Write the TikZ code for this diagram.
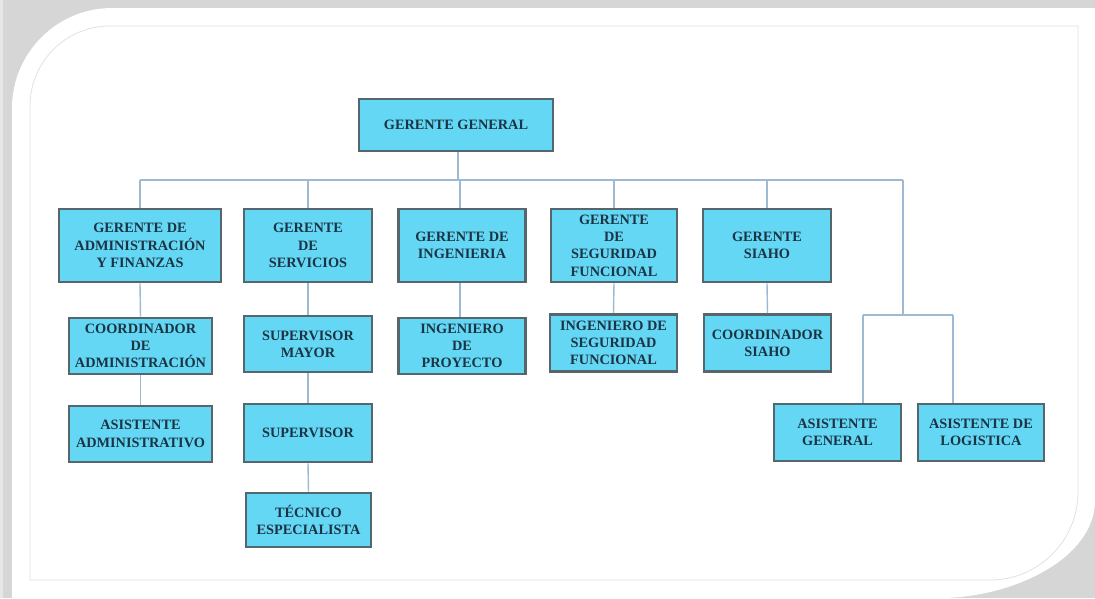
\documentclass[tikz,border=0pt]{standalone}
\usepackage{fontspec}
\setmainfont{Liberation Serif}
\definecolor{bggray}{HTML}{D6D6D6}
\definecolor{framegray}{HTML}{E2E2E2}
\definecolor{boxcyan}{HTML}{64D7F5}
\definecolor{boxedge}{HTML}{55666D}
\definecolor{txtblue}{HTML}{1B3444}
\definecolor{linkblue}{HTML}{9DBAD2}
\tikzset{
  orgbox/.style={rectangle, fill=boxcyan, draw=boxedge, line width=2.8pt,
    inner sep=0pt, align=center, text=txtblue,
    font=\fontsize{14.3}{17.3}\selectfont\bfseries},
  link/.style={draw=linkblue, line width=1.4pt}
}
\begin{document}
\begin{tikzpicture}[x=1pt,y=-1pt]
\useasboundingbox (0,0) rectangle (1095,598);
% background and frame
\fill[bggray] (0,0) rectangle (1095,598);
\fill[bggray!60!white] (0,0) rectangle (3,598);
\fill[white] (12,598) -- (12,108) .. controls (12,53) and (57,8) .. (112,8)
  -- (1095,8) -- (1095,500) .. controls (1095,560) and (1010,598) .. (940,598) -- cycle;
\draw[framegray, line width=0.8pt] (30,580) -- (30,106) .. controls (30,61.8) and (65.8,26) .. (110,26)
  -- (1078,26) -- (1078,492) .. controls (1078,540.6) and (1038.6,580) .. (990,580) -- cycle;

% nodes
\node[orgbox, minimum width=194pt, minimum height=52pt] (gg) at (456,125) {GERENTE GENERAL};

\node[orgbox, minimum width=162pt, minimum height=73pt] (gaf) at (140,245.5) {GERENTE DE\\ADMINISTRACIÓN\\Y FINANZAS};
\node[orgbox, minimum width=128pt, minimum height=73pt] (gse) at (308,245.5) {GERENTE\\DE\\SERVICIOS};
\node[orgbox, minimum width=127pt, minimum height=73pt] (gin) at (462,245.5) {GERENTE DE\\INGENIERIA};
\node[orgbox, minimum width=126pt, minimum height=73pt] (gsf) at (614,245.5) {GERENTE\\DE\\SEGURIDAD\\FUNCIONAL};
\node[orgbox, minimum width=128pt, minimum height=73pt] (gsi) at (767,245.5) {GERENTE\\SIAHO};

\node[orgbox, minimum width=143pt, minimum height=56pt] (cad) at (140.5,346) {COORDINADOR\\DE\\ADMINISTRACIÓN};
\node[orgbox, minimum width=128pt, minimum height=56pt] (smy) at (308,344) {SUPERVISOR\\MAYOR};
\node[orgbox, minimum width=127pt, minimum height=56pt] (ipr) at (462,346) {INGENIERO\\DE\\PROYECTO};
\node[orgbox, minimum width=127pt, minimum height=57pt] (isf) at (613.5,343) {INGENIERO DE\\SEGURIDAD\\FUNCIONAL};
\node[orgbox, minimum width=127pt, minimum height=57pt] (csi) at (767.5,343) {COORDINADOR\\SIAHO};

\node[orgbox, minimum width=143pt, minimum height=56pt] (aad) at (140.5,434) {ASISTENTE\\ADMINISTRATIVO};
\node[orgbox, minimum width=128pt, minimum height=58pt] (sup) at (308,433) {SUPERVISOR};
\node[orgbox, minimum width=125pt, minimum height=54pt] (tes) at (308.5,520) {TÉCNICO\\ESPECIALISTA};
\node[orgbox, minimum width=127pt, minimum height=57pt] (asg) at (837.5,432.5) {ASISTENTE\\GENERAL};
\node[orgbox, minimum width=126pt, minimum height=57pt] (alo) at (981,432.5) {ASISTENTE DE\\LOGISTICA};

% connectors
\coordinate (busL) at (140,180);
\coordinate (busR) at (903,180);
\coordinate (sbL) at (863,315);
\coordinate (sbR) at (953,315);
\draw[link] (gg.south -| 458,0) -- (458,180);
\draw[link] (busL) -- (busR);
\draw[link] (busL) -- (gaf.north);
\draw[link] (gse.north |- busL) -- (gse.north);
\draw[link] (460,180) -- (gin.north -| 460,0);
\draw[link] (gsf.north |- busL) -- (gsf.north);
\draw[link] (gsi.north |- busL) -- (gsi.north);
\draw[link] (busR) -- (busR |- sbL);
\draw[link] (sbL) -- (sbR);
\draw[link] (sbL) -- (sbL |- asg.north);
\draw[link] (sbR) -- (sbR |- alo.north);

\draw[link] (gaf.south) -- (cad.north);
\draw[link] (cad.south) -- (aad.north);
\draw[link] (gse.south) -- (smy.north);
\draw[link] (smy.south) -- (sup.north);
\draw[link] (sup.south) -- (tes.north);
\draw[link] (gin.south -| 460,0) -- (ipr.north -| 460,0);
\draw[link] (gsf.south) -- (isf.north);
\draw[link] (gsi.south) -- (csi.north);
\end{tikzpicture}
\end{document}
